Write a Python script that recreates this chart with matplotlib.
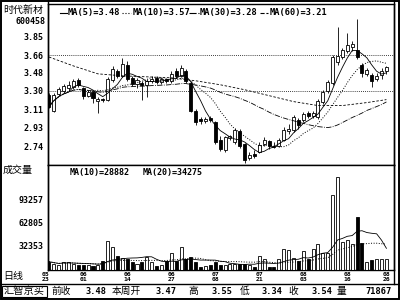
import matplotlib
matplotlib.use("Agg")
import matplotlib.pyplot as plt
from matplotlib.patches import Rectangle
import numpy as np
import pandas as pd

plt.rcParams["font.family"] = ["DejaVu Sans Mono", "Noto Sans CJK SC"]

stock_name = "时代新材"
stock_code = "600458"

date_ticks = [0, 7, 16, 25, 34, 43, 52, 61, 69]
date_labels = ["05\n23", "06\n01", "06\n14", "06\n27", "07\n08",
               "07\n21", "08\n03", "08\n16", "08\n26"]

opens = [3.26, 3.09, 3.27, 3.30, 3.33, 3.34, 3.41, 3.33, 3.25, 3.29,
         3.20, 3.22, 3.21, 3.41, 3.50, 3.45, 3.56, 3.43, 3.37, 3.38,
         3.36, 3.40, 3.43, 3.39, 3.42, 3.40, 3.50, 3.45, 3.50, 3.38,
         3.10, 3.01, 2.99, 3.02, 2.98, 2.80, 2.70, 2.82, 2.78, 2.89,
         2.76, 2.62, 2.66, 2.68, 2.76, 2.79, 2.74, 2.74, 2.80, 2.89,
         2.90, 3.00, 3.00, 3.07, 3.04, 3.03, 3.19, 3.30, 3.38, 3.59,
         3.64, 3.70, 3.74, 3.71, 3.56, 3.47, 3.46, 3.42, 3.46, 3.50]
highs = [3.28, 3.28, 3.34, 3.37, 3.40, 3.42, 3.43, 3.34, 3.31, 3.31,
         3.24, 3.23, 3.44, 3.55, 3.52, 3.63, 3.60, 3.45, 3.43, 3.40,
         3.42, 3.45, 3.45, 3.44, 3.43, 3.50, 3.53, 3.56, 3.52, 3.40,
         3.12, 3.03, 3.03, 3.04, 2.99, 2.84, 2.84, 2.85, 2.92, 2.91,
         2.77, 2.68, 2.70, 2.78, 2.83, 2.80, 2.78, 2.82, 2.93, 2.96,
         3.05, 3.02, 3.08, 3.10, 3.10, 3.22, 3.31, 3.41, 3.66, 3.94,
         3.73, 3.88, 3.80, 4.02, 3.58, 3.53, 3.48, 3.48, 3.53, 3.55]
lows = [3.13, 3.08, 3.25, 3.28, 3.30, 3.32, 3.34, 3.22, 3.24, 3.18,
        3.07, 3.19, 3.20, 3.39, 3.43, 3.44, 3.40, 3.35, 3.33, 3.21,
        3.24, 3.38, 3.37, 3.37, 3.38, 3.38, 3.43, 3.44, 3.38, 3.08,
        2.95, 2.96, 2.97, 2.98, 2.76, 2.69, 2.68, 2.80, 2.76, 2.72,
        2.57, 2.60, 2.62, 2.67, 2.74, 2.71, 2.72, 2.73, 2.79, 2.86,
        2.88, 2.91, 2.98, 3.02, 3.02, 3.01, 3.17, 3.28, 3.36, 3.56,
        3.62, 3.68, 3.70, 3.62, 3.44, 3.45, 3.34, 3.40, 3.42, 3.47]
closes = [3.14, 3.26, 3.32, 3.35, 3.36, 3.40, 3.36, 3.25, 3.29, 3.23,
          3.22, 3.21, 3.42, 3.52, 3.45, 3.57, 3.42, 3.37, 3.41, 3.36,
          3.40, 3.42, 3.39, 3.42, 3.40, 3.47, 3.45, 3.53, 3.40, 3.10,
          2.98, 2.99, 3.01, 3.00, 2.78, 2.71, 2.83, 2.84, 2.90, 2.74,
          2.60, 2.65, 2.64, 2.75, 2.80, 2.74, 2.73, 2.80, 2.90, 2.91,
          3.03, 2.95, 3.06, 3.04, 3.07, 3.20, 3.29, 3.39, 3.64, 3.65,
          3.71, 3.76, 3.77, 3.64, 3.48, 3.51, 3.40, 3.45, 3.50, 3.54]
volumes = [11000, 8500, 6500, 11000, 10000, 8500, 7000, 7000, 7000, 4800,
           7000, 12000, 38000, 31000, 18000, 16000, 15000, 10000, 8500, 11000,
           17000, 10000, 5000, 6000, 12000, 22000, 12000, 30000, 14000, 17000,
           10000, 3500, 5000, 6000, 11000, 7000, 7000, 8500, 8500, 8500,
           8500, 7000, 4000, 19000, 15000, 4000, 3500, 14000, 28000, 27000,
           16000, 12000, 25000, 14000, 28000, 35000, 23000, 22000, 99000, 123000,
           37000, 40000, 35000, 70000, 36000, 11000, 13000, 15000, 15000, 15000]

# MA60 (its window reaches back before the first candle)
ma60_idx = [0, 5, 10, 15, 20, 25, 30, 35, 40, 45, 50, 55, 60, 65, 69]
ma60_val = [3.64, 3.55, 3.47, 3.45, 3.44, 3.43, 3.40, 3.36, 3.31, 3.25,
            3.19, 3.15, 3.15, 3.18, 3.21]

price_ticks = [3.85, 3.66, 3.48, 3.30, 3.11, 2.93, 2.74]
ref_lines = [3.66, 3.30]
vol_ticks = [93257, 62805, 32353]

ma_labels = ["MA(5)=3.48", "MA(10)=3.57", "MA(30)=3.28", "MA(60)=3.21"]
vol_ma_labels = ["MA(10)=28882", "MA(20)=34275"]
bar_names = ["前收", "本周开", "高", "低", "收", "量"]
bar_values = ["3.48", "3.47", "3.55", "3.34", "3.54", "71867"]

x = np.arange(len(closes))
o = np.array(opens)
c = np.array(closes)
up = c >= o
fill = np.where(up, "white", "black")
cs = pd.Series(closes)
vs = pd.Series(volumes)

fig = plt.figure(figsize=(4, 3), dpi=100)
fig.patch.set_facecolor("white")


def fr(px0, py0, px1, py1):
    return [px0 / 400, 1 - py1 / 300, (px1 - px0) / 400, (py1 - py0) / 300]


xl = (-0.2, 70.55)
mono = dict(family="DejaVu Sans Mono", weight="bold")

# price panel
pax = fig.add_axes(fr(48, 4, 394, 165))
pax.set_xlim(*xl)
pax.set_ylim(2.55, 4.175)
pax.vlines(x, lows, highs, color="black", lw=0.6, zorder=2)
pax.bar(x, np.abs(c - o), bottom=np.minimum(o, c), width=0.62, color=fill,
        edgecolor="black", lw=0.6, zorder=3)
pax.plot(x, cs.rolling(5, min_periods=1).mean(), "-", color="black", lw=0.6, zorder=4)
pax.plot(x, cs.rolling(10, min_periods=1).mean(), ":", color="black", lw=0.7, zorder=4)
pax.plot(x, cs.rolling(30, min_periods=1).mean(), "-.", color="black", lw=0.6, zorder=4)
pax.plot(ma60_idx, ma60_val, "--", color="black", lw=0.6, dashes=(3, 2), zorder=4)
for r in ref_lines:
    pax.axhline(r, color="black", ls=(0, (1, 1.5)), lw=0.6, zorder=1)
pax.set_xticks([])
pax.set_yticks(price_ticks)
pax.set_yticklabels(["%.2f" % t for t in price_ticks], **mono)
pax.tick_params(axis="y", length=0, pad=3, labelsize=6)
for s in pax.spines.values():
    s.set_linewidth(1.0)

# volume panel
vax = fig.add_axes(fr(48, 165, 394, 270))
vax.set_xlim(*xl)
vax.set_ylim(0, 139000)
vax.bar(x, volumes, width=0.62, color=fill, edgecolor="black", lw=0.6, zorder=3)
vax.plot(x, vs.rolling(10, min_periods=1).mean(), "-", color="black", lw=0.6, zorder=4)
vax.plot(x, vs.rolling(20, min_periods=1).mean(), ":", color="black", lw=0.7, zorder=4)
vax.set_yticks(vol_ticks)
vax.set_yticklabels([str(t) for t in vol_ticks], **mono)
vax.set_xticks(date_ticks)
vax.set_xticklabels(date_labels, linespacing=1.0, **mono)
vax.tick_params(axis="y", length=0, pad=3, labelsize=6)
vax.tick_params(axis="x", length=0, pad=1.5, labelsize=4.6)
vax.get_xticklabels()[0].set_horizontalalignment("right")
for s in vax.spines.values():
    s.set_linewidth(1.0)

# overlay for frame and texts, in pixel coords
ov = fig.add_axes([0, 0, 1, 1])
ov.set_xlim(0, 400)
ov.set_ylim(300, 0)
ov.axis("off")
ov.patch.set_alpha(0)
ov.add_patch(Rectangle((0.7, 0.7), 398, 298, fill=False, ec="black", lw=1.4))
ov.plot([48, 48], [0, 270], color="black", lw=1.0)
ov.plot([0, 400], [284, 284], color="black", lw=1.0)
ov.plot([394, 394], [0, 284], color="black", lw=1.0)
ov.add_patch(Rectangle((2, 285.5), 45, 11.5, fill=False, ec="black", lw=0.8))

cjk = dict(family=["Noto Sans CJK SC", "DejaVu Sans"])
ov.text(3, 10, stock_name, fontsize=7.2, va="center", ha="left", **cjk)
ov.text(45, 21, stock_code, fontsize=6, va="center", ha="right", **mono)
ov.text(3, 170, "成交量", fontsize=7.2, va="center", ha="left", **cjk)
ov.text(3, 276, "日线", fontsize=7.2, va="center", ha="left", **cjk)
ov.text(4, 291, "汇智京买", fontsize=7.4, va="center", ha="left", **cjk)

# header with MA legend
styles = ["-", ":", "-.", "--"]
seg = [(60, 67), (122, 131), (189, 199), (260, 268)]
txt_x = [68, 133, 200, 270]
for lab, st, (a, b), tx in zip(ma_labels, styles, seg, txt_x):
    ov.plot([a, b], [13, 13], ls=st, color="black", lw=0.8)
    ov.text(tx, 13, lab, fontsize=6.2, va="center", ha="left", **mono)

for lab, tx in zip(vol_ma_labels, [70, 143]):
    ov.text(tx, 172, lab, fontsize=6, va="center", ha="left", **mono)

# bottom info bar
name_x = [52, 112, 188, 240, 288, 337]
val_x = [107, 176, 232, 282, 332, 392]
for nm, vl, nx, vx in zip(bar_names, bar_values, name_x, val_x):
    ov.text(nx, 291, nm, fontsize=7, va="center", ha="left", **cjk)
    ov.text(vx, 291, vl, fontsize=6.2, va="center", ha="right", **mono)

fig.savefig("out.png", dpi=100, facecolor="white")
